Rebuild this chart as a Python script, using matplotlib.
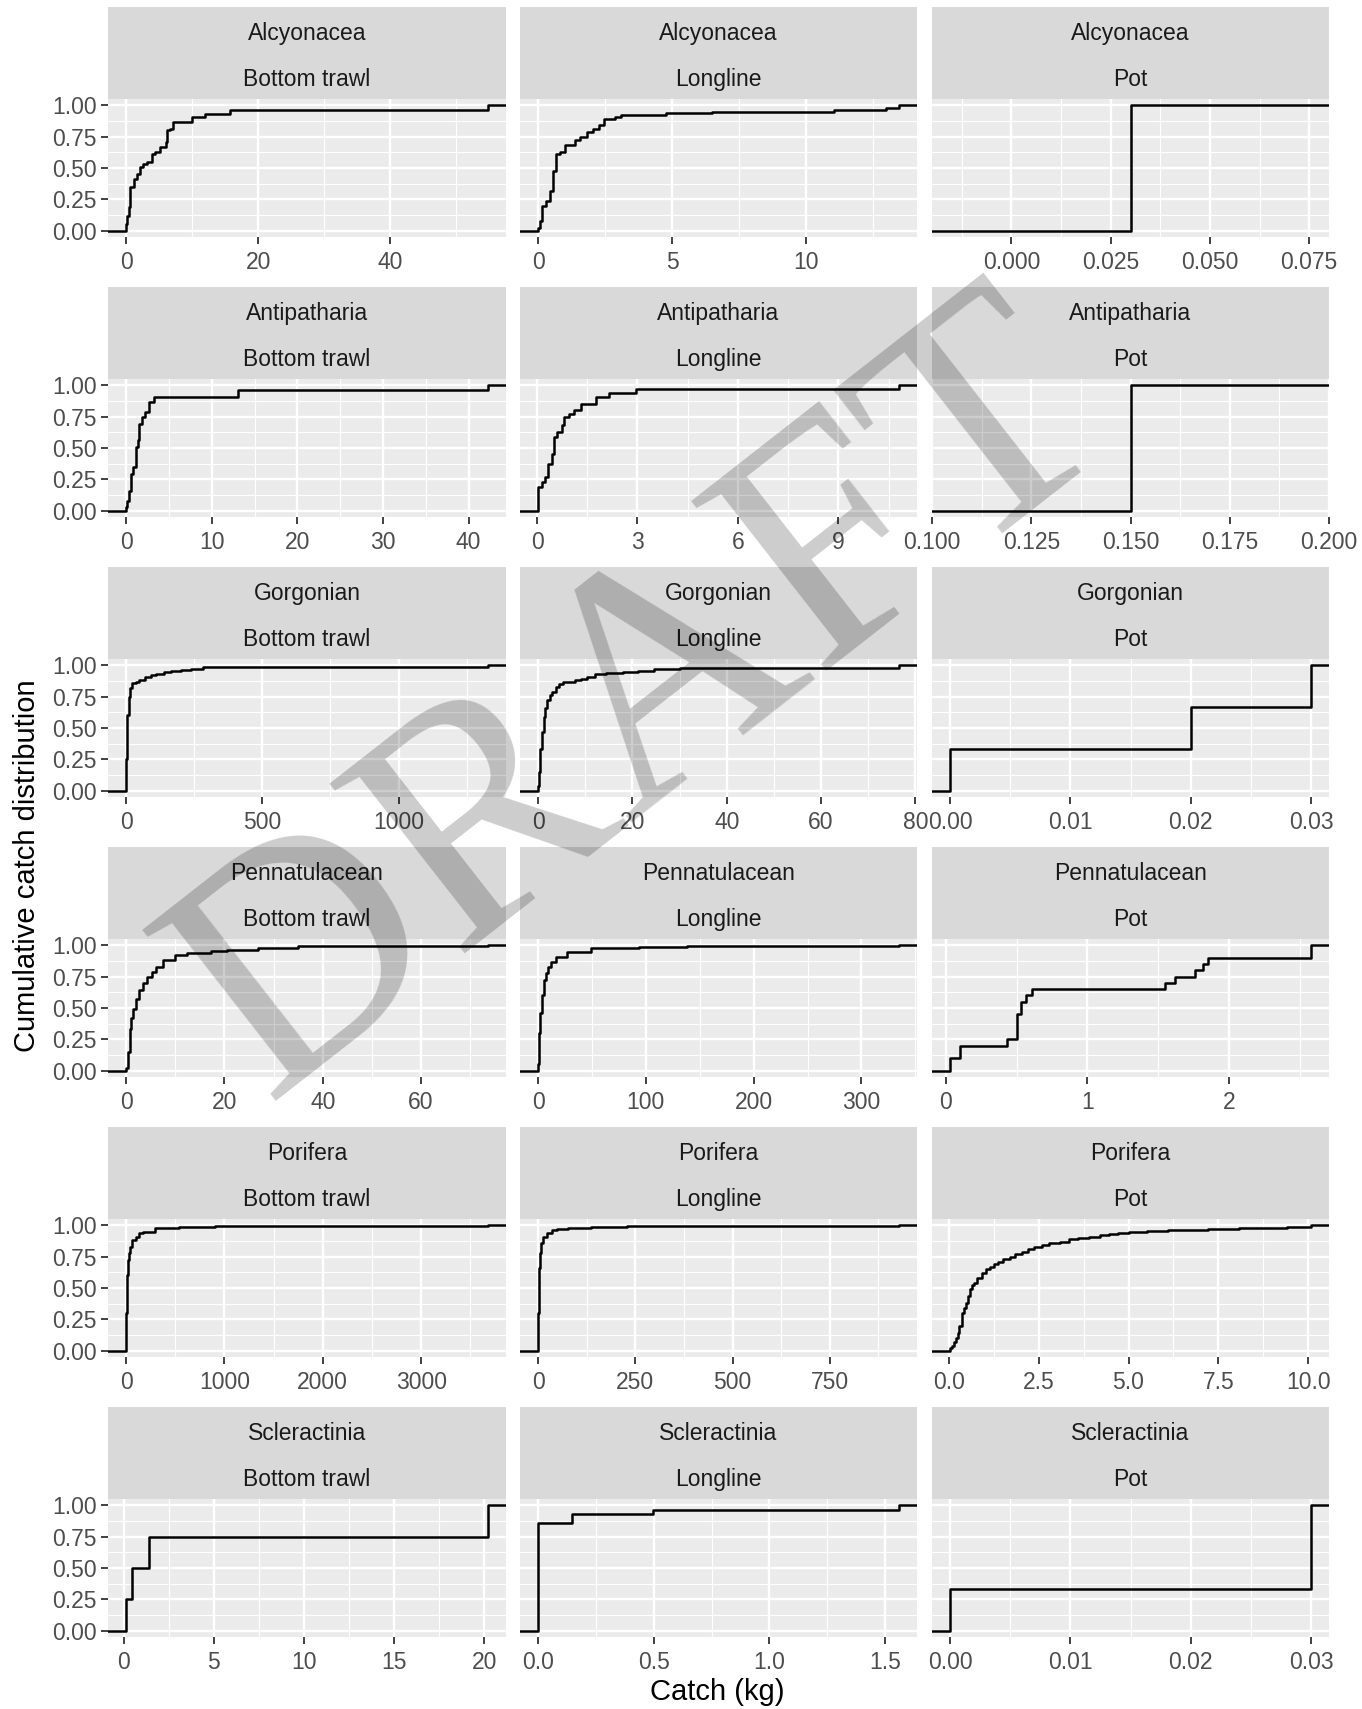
import numpy as np
import matplotlib
matplotlib.use("Agg")
import matplotlib.pyplot as plt

plt.rcParams['font.family'] = ['Liberation Sans', 'DejaVu Sans']

taxa = ["Alcyonacea", "Antipatharia", "Gorgonian", "Pennatulacean", "Porifera", "Scleractinia"]
gears = ["Bottom trawl", "Longline", "Pot"]

# ECDF knots: catch (kg) and cumulative fraction
alc_trawl_x = [0.0, 0.2, 0.4, 0.66, 1.16, 1.67, 2.17, 2.6, 3.2, 3.9, 4.4, 5.2, 6.0, 6.2, 6.7, 7.1, 10.0, 12.0, 15.8, 54.8]
alc_trawl_y = [0.05, 0.12, 0.19, 0.35, 0.41, 0.45, 0.51, 0.53, 0.55, 0.61, 0.63, 0.67, 0.71, 0.80, 0.81, 0.87, 0.91, 0.93, 0.965, 1.0]
alc_line_x = [0.0, 0.06, 0.16, 0.31, 0.43, 0.56, 0.68, 0.81, 0.99, 1.36, 1.55, 1.82, 2.04, 2.29, 2.44, 2.85, 3.1, 4.77, 6.5, 11.03, 12.95, 13.45]
alc_line_y = [0.02, 0.08, 0.2, 0.24, 0.32, 0.48, 0.61, 0.63, 0.68, 0.72, 0.75, 0.79, 0.81, 0.84, 0.89, 0.91, 0.92, 0.94, 0.95, 0.965, 0.98, 1.0]
alc_pot_x = [0.03]
alc_pot_y = [1.0]

ant_trawl_x = [0.0, 0.16, 0.35, 0.54, 0.86, 1.13, 1.4, 1.52, 1.9, 2.18, 2.68, 3.27, 13.07, 42.26]
ant_trawl_y = [0.03, 0.08, 0.16, 0.29, 0.35, 0.51, 0.56, 0.69, 0.75, 0.79, 0.87, 0.91, 0.96, 1.0]
ant_line_x = [0.03, 0.15, 0.25, 0.33, 0.45, 0.5, 0.6, 0.75, 0.8, 0.95, 1.1, 1.3, 1.75, 2.15, 2.95, 10.81]
ant_line_y = [0.19, 0.23, 0.27, 0.37, 0.45, 0.59, 0.63, 0.68, 0.75, 0.77, 0.8, 0.85, 0.91, 0.94, 0.97, 1.0]
ant_pot_x = [0.15]
ant_pot_y = [1.0]

gor_trawl_x = [0, 1, 2, 5, 10, 15, 20, 35, 49, 70, 90, 108, 140, 166, 200, 238, 282, 1328]
gor_trawl_y = [0.10, 0.25, 0.35, 0.6, 0.75, 0.82, 0.855, 0.87, 0.88, 0.91, 0.92, 0.93, 0.945, 0.955, 0.965, 0.97, 0.985, 1.0]
gor_line_x = [0.0, 0.1, 0.2, 0.35, 0.5, 0.8, 1.17, 1.5, 2.0, 2.5, 3.0, 3.7, 4.5, 5.3, 7.9, 9.0, 10.4, 12.0, 14.5, 18.0, 21.2, 24.6, 30.0, 36.3, 76.5]
gor_line_y = [0.04, 0.1, 0.15, 0.25, 0.33, 0.47, 0.59, 0.66, 0.72, 0.76, 0.79, 0.83, 0.85, 0.87, 0.88, 0.89, 0.91, 0.93, 0.94, 0.95, 0.955, 0.97, 0.975, 0.98, 1.0]
gor_pot_x = [0.0, 0.02, 0.03]
gor_pot_y = [0.333, 0.667, 1.0]

pen_trawl_x = [0.0, 0.3, 0.8, 1.1, 1.45, 2.0, 2.7, 3.5, 4.35, 5.2, 6.0, 7.6, 10.0, 12.4, 17.3, 20.5, 26.9, 35.0, 73.6]
pen_trawl_y = [0.02, 0.15, 0.33, 0.42, 0.49, 0.57, 0.645, 0.7, 0.75, 0.79, 0.83, 0.88, 0.92, 0.94, 0.955, 0.965, 0.98, 0.995, 1.0]
pen_line_x = [0.0, 0.5, 1.0, 1.5, 2.2, 3.5, 5.2, 7.0, 8.8, 12.0, 16.2, 27.3, 49.4, 93.6, 137.8, 334.8]
pen_line_y = [0.05, 0.18, 0.3, 0.38, 0.46, 0.6, 0.72, 0.78, 0.83, 0.87, 0.91, 0.95, 0.975, 0.99, 0.997, 1.0]
pen_pot_x = [0.03, 0.1, 0.43, 0.5, 0.53, 0.57, 0.61, 1.55, 1.62, 1.76, 1.82, 1.85, 2.58]
pen_pot_y = [0.1, 0.2, 0.25, 0.45, 0.55, 0.6, 0.65, 0.7, 0.75, 0.8, 0.85, 0.9, 1.0]

por_trawl_x = [0, 3, 5, 8, 10, 16, 25, 40, 60, 97, 130, 177, 298, 540, 903, 3679]
por_trawl_y = [0.1, 0.3, 0.4, 0.52, 0.6, 0.72, 0.78, 0.83, 0.88, 0.91, 0.935, 0.95, 0.975, 0.99, 0.995, 1.0]
por_line_x = [0, 1, 2, 3, 4, 8, 14, 22, 35, 50, 76, 137, 229, 928]
por_line_y = [0.1, 0.3, 0.5, 0.66, 0.78, 0.86, 0.91, 0.94, 0.96, 0.97, 0.98, 0.99, 0.997, 1.0]
por_pot_x = [0.04, 0.1, 0.15, 0.2, 0.26, 0.3, 0.37, 0.42, 0.48, 0.53, 0.59, 0.65, 0.70, 0.8, 0.93, 1.05, 1.15,
             1.25, 1.37, 1.5, 1.70, 1.85, 2.03, 2.2, 2.36, 2.6, 2.80, 3.1, 3.35, 3.6, 3.90, 4.2, 4.45, 4.7,
             5.0, 5.5, 6.1, 7.2, 8.08, 9.4, 10.07]
por_pot_y = [0.02, 0.04, 0.07, 0.1, 0.145, 0.2, 0.3, 0.34, 0.38, 0.44, 0.49, 0.52, 0.54, 0.58, 0.62, 0.65, 0.67,
             0.69, 0.71, 0.73, 0.75, 0.77, 0.79, 0.81, 0.83, 0.845, 0.855, 0.87, 0.887, 0.895, 0.908, 0.92, 0.93, 0.94,
             0.947, 0.953, 0.96, 0.968, 0.98, 0.99, 1.0]

scl_trawl_x = [0.13, 0.44, 1.41, 20.2]
scl_trawl_y = [0.25, 0.5, 0.75, 1.0]
scl_line_x = [0.0, 0.148, 0.497, 1.56]
scl_line_y = [0.86, 0.93, 0.965, 1.0]
scl_pot_x = [0.0, 0.03]
scl_pot_y = [0.333, 1.0]

# x tick labels per panel
alc_ticks = [["0", "20", "40"], ["0", "5", "10"], ["0.000", "0.025", "0.050", "0.075"]]
ant_ticks = [["0", "10", "20", "30", "40"], ["0", "3", "6", "9"], ["0.100", "0.125", "0.150", "0.175", "0.200"]]
gor_ticks = [["0", "500", "1000"], ["0", "20", "40", "60", "80"], ["0.00", "0.01", "0.02", "0.03"]]
pen_ticks = [["0", "20", "40", "60"], ["0", "100", "200", "300"], ["0", "1", "2"]]
por_ticks = [["0", "1000", "2000", "3000"], ["0", "250", "500", "750"], ["0.0", "2.5", "5.0", "7.5", "10.0"]]
scl_ticks = [["0", "5", "10", "15", "20"], ["0.0", "0.5", "1.0", "1.5"], ["0.00", "0.01", "0.02", "0.03"]]

y_ticks = [0, 0.25, 0.5, 0.75, 1.0]
y_labels = ["0.00", "0.25", "0.50", "0.75", "1.00"]

panels = [
    [(alc_trawl_x, alc_trawl_y), (alc_line_x, alc_line_y), (alc_pot_x, alc_pot_y)],
    [(ant_trawl_x, ant_trawl_y), (ant_line_x, ant_line_y), (ant_pot_x, ant_pot_y)],
    [(gor_trawl_x, gor_trawl_y), (gor_line_x, gor_line_y), (gor_pot_x, gor_pot_y)],
    [(pen_trawl_x, pen_trawl_y), (pen_line_x, pen_line_y), (pen_pot_x, pen_pot_y)],
    [(por_trawl_x, por_trawl_y), (por_line_x, por_line_y), (por_pot_x, por_pot_y)],
    [(scl_trawl_x, scl_trawl_y), (scl_line_x, scl_line_y), (scl_pot_x, scl_pot_y)],
]
tick_sets = [alc_ticks, ant_ticks, gor_ticks, pen_ticks, por_ticks, scl_ticks]

W, H = 1362, 1709
fig = plt.figure(figsize=(W / 100, H / 100), dpi=100)


def box(x0, y0, x1, y1):
    return [x0 / W, 1 - y1 / H, (x1 - x0) / W, (y1 - y0) / H]


col_px = [(108, 506), (520, 917), (932, 1329)]
row_step = 280

for r, taxon in enumerate(taxa):
    top = 7 + r * row_step
    ptop = 99 + r * row_step
    pbot = 237 + r * row_step
    for c, gear in enumerate(gears):
        x0, x1 = col_px[c]
        # strip
        sax = fig.add_axes(box(x0, top, x1, ptop))
        sax.set_facecolor("#D9D9D9")
        sax.set_xticks([]); sax.set_yticks([])
        for s in sax.spines.values():
            s.set_visible(False)
        sax.set_xlim(0, 1); sax.set_ylim(92, 0)
        sax.text(0.5, 33, taxon, ha="center", va="baseline", fontsize=16.5, color="#1A1A1A")
        sax.text(0.5, 79, gear, ha="center", va="baseline", fontsize=16.5, color="#1A1A1A")

        ax = fig.add_axes(box(x0, ptop, x1, pbot))
        ax.set_facecolor("#EBEBEB")
        for s in ax.spines.values():
            s.set_visible(False)

        kx, ky = panels[r][c]
        lo, hi = min(kx), max(kx)
        if hi == lo:
            lo, hi = lo - 0.05, hi + 0.05
        else:
            pad = (hi - lo) * 0.05
            lo, hi = lo - pad, hi + pad
        xs = [lo] + list(kx) + [hi]
        ys = [0] + list(ky) + [1]
        ax.step(xs, ys, where="post", color="black", lw=1.8, zorder=3)

        labels = tick_sets[r][c]
        ticks = [float(t) for t in labels]
        step = ticks[1] - ticks[0]
        minors = np.arange(ticks[0] - step / 2, ticks[-1] + step, step)
        minors = [m for m in minors if lo <= m <= hi]
        ax.set_xticks(ticks)
        ax.set_xticklabels(labels)
        ax.set_xticks(minors, minor=True)
        ax.set_xlim(lo, hi)
        ax.set_ylim(-0.05, 1.05)
        ax.set_yticks(y_ticks)
        ax.set_yticks([0.125, 0.375, 0.625, 0.875], minor=True)
        if c == 0:
            ax.set_yticklabels(y_labels)
        ax.grid(which="major", color="white", lw=1.7)
        ax.grid(which="minor", color="white", lw=0.85)
        ax.set_axisbelow(True)
        ax.tick_params(which="major", length=5, width=1.3, color="#333333",
                       labelsize=16.5, labelcolor="#4D4D4D", pad=3)
        ax.tick_params(axis="x", which="major", pad=5)
        ax.tick_params(which="minor", length=0)
        if c != 0:
            ax.tick_params(axis="y", which="major", length=0, labelleft=False)

fig.text(717 / W, 1 - 1700 / H, "Catch (kg)", ha="center", va="baseline", fontsize=21, color="black")
fig.text(27 / W, 1 - 866 / H, "Cumulative catch distribution", ha="center", va="center",
         rotation=90, fontsize=21, color="black")

# watermark
fig.text(644 / W, 1 - 705 / H, "DRAFT", ha="center", va="center", rotation=38,
         rotation_mode="anchor", fontsize=238, family="Liberation Serif",
         color="black", alpha=0.2, zorder=10)

fig.savefig("out.png", dpi=100)
